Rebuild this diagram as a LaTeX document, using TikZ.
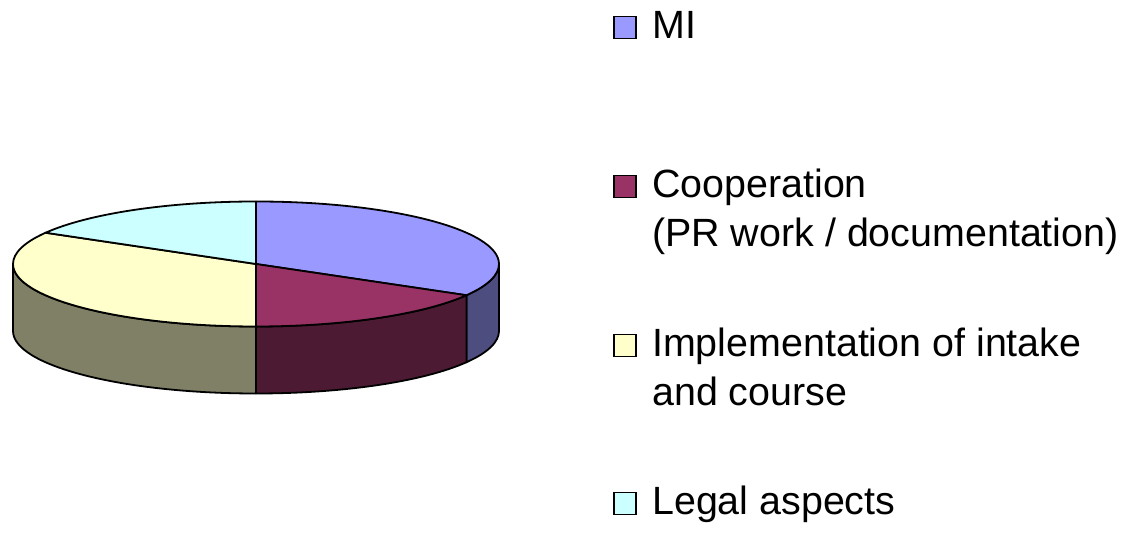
\documentclass[tikz,border=0pt]{standalone}
\usepackage{fontspec}
\setmainfont{Liberation Sans}
\definecolor{mi}{HTML}{9999FF}
\definecolor{miside}{HTML}{4D4D80}
\definecolor{coop}{HTML}{993366}
\definecolor{coopside}{HTML}{4C1A33}
\definecolor{impl}{HTML}{FFFFCC}
\definecolor{implside}{HTML}{808066}
\definecolor{legal}{HTML}{CCFFFF}
\tikzset{
  slice/.style={draw=black,line width=1.8pt,line join=round},
  key/.style={draw=black,line width=1.5pt,minimum size=22pt,inner sep=0pt},
  keytext/.style={anchor=base west,align=left,inner sep=0pt,
    font=\fontsize{39.4}{49}\selectfont}
}
\begin{document}
\begin{tikzpicture}[x=1pt,y=1pt]
            \useasboundingbox (0,0) rectangle (1142,540);
            % Pastel
            \begin{scope}[shift={(256,276)}]
            % Caras laterales
            \draw[slice,fill=miside] (-30:243 and 62.5) arc[start angle=-30,end angle=0,x radius=243,y radius=62.5]
                -- ++(0,-67) arc[start angle=0,end angle=-30,x radius=243,y radius=62.5] -- cycle;
            \draw[slice,fill=coopside] (-90:243 and 62.5) arc[start angle=-90,end angle=-30,x radius=243,y radius=62.5]
                -- ++(0,-67) arc[start angle=-30,end angle=-90,x radius=243,y radius=62.5] -- cycle;
            \draw[slice,fill=implside] (-180:243 and 62.5) arc[start angle=-180,end angle=-90,x radius=243,y radius=62.5]
                -- ++(0,-67) arc[start angle=-90,end angle=-180,x radius=243,y radius=62.5] -- cycle;
            % Cara superior
            \draw[slice,fill=mi] (0,0) -- (90:243 and 62.5) arc[start angle=90,end angle=-30,x radius=243,y radius=62.5] -- cycle;
            \draw[slice,fill=coop] (0,0) -- (-30:243 and 62.5) arc[start angle=-30,end angle=-90,x radius=243,y radius=62.5] -- cycle;
            \draw[slice,fill=impl] (0,0) -- (-90:243 and 62.5) arc[start angle=-90,end angle=-210,x radius=243,y radius=62.5] -- cycle;
            \draw[slice,fill=legal] (0,0) -- (150:243 and 62.5) arc[start angle=150,end angle=90,x radius=243,y radius=62.5] -- cycle;
            \end{scope}

            % Leyenda
            \node[key,fill=mi] (kmi) at (625,512.5) {};
            \node[keytext] (tmi) at (652,501) {MI};
            \node[key,fill=coop] (kcoop) at (625,353.5) {};
            \node[keytext] (tcoop) at (652,293) {Cooperation\\(PR work / documentation)};
            \node[key,fill=impl] (kimpl) at (625,194.5) {};
            \node[keytext] (timpl) at (652,134.3) {Implementation of intake\\and course};
            \node[key,fill=legal] (klegal) at (625,36.5) {};
            \node[keytext] (tlegal) at (652,25) {Legal aspects};
        \end{tikzpicture}
\end{document}
